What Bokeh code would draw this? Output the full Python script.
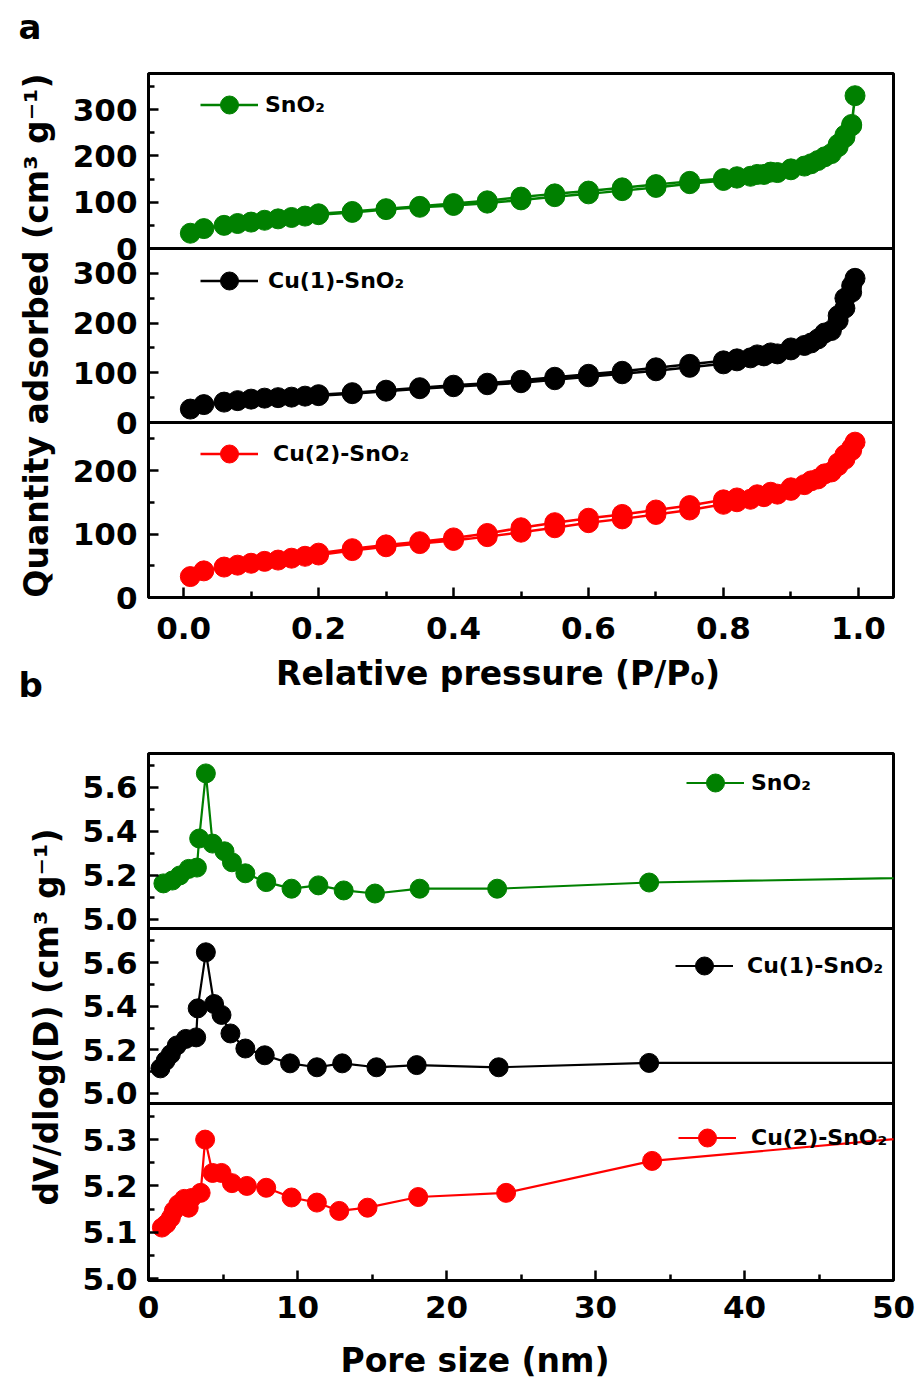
from bokeh.plotting import figure
from bokeh.models import (Range1d, FixedTicker, Legend, LegendItem, Label, Span,
                          NumeralTickFormatter)
from bokeh.layouts import column
from bokeh.embed import file_html
from bokeh.resources import INLINE

# ---------------- data: panel a (N2 isotherms) ----------------
p_ads = [0.01, 0.03, 0.06, 0.08, 0.10, 0.12, 0.14, 0.16, 0.18, 0.20, 0.25, 0.30, 0.35, 0.40,
         0.45, 0.50, 0.55, 0.60, 0.65, 0.70, 0.75, 0.80, 0.82, 0.84, 0.86, 0.88, 0.90, 0.92,
         0.94, 0.96, 0.97, 0.98, 0.99, 0.995]
p_des = [0.99, 0.98, 0.97, 0.95, 0.93, 0.90, 0.87, 0.85, 0.82, 0.80, 0.75, 0.70, 0.65, 0.60,
         0.55, 0.50, 0.45, 0.40, 0.35, 0.30, 0.25, 0.20]

sno2_ads = [33, 43, 50, 54, 57, 61, 64, 67, 70, 73, 78, 84, 89, 93, 98, 105, 112, 118, 125, 132,
            140, 147, 152, 156, 160, 164, 170, 178, 190, 205, 220, 240, 265, 330]
sno2_des = [268, 245, 225, 198, 183, 172, 165, 160, 155, 151, 145, 138, 131, 124, 118, 111, 103,
            97, 91, 86, 80, 75]
cu1_ads = [27, 36, 41, 44, 47, 49, 50, 51, 53, 54, 58, 63, 68, 72, 76, 80, 86, 92, 98, 104, 111,
           118, 124, 130, 134, 138, 146, 155, 168, 185, 205, 230, 262, 290]
cu1_des = [275, 250, 215, 180, 160, 150, 140, 136, 128, 124, 117, 110, 103, 97, 91, 85, 79, 75,
           70, 65, 60, 56]
cu2_ads = [33, 42, 48, 51, 54, 57, 59, 62, 65, 67, 74, 80, 85, 90, 96, 103, 110, 118, 124, 131,
           138, 147, 151, 155, 159, 163, 169, 178, 187, 198, 208, 218, 232, 245]
cu2_des = [236, 225, 212, 195, 184, 173, 166, 162, 157, 154, 145, 138, 131, 125, 118, 110, 101,
           94, 88, 83, 77, 70]

# ---------------- data: panel b (pore size distribution) ----------------
sno2_d = [1.0, 1.6, 2.1, 2.7, 3.25, 3.4, 3.85, 4.3, 5.1, 5.6, 6.5, 7.9, 9.6, 11.4, 13.1, 15.2,
          18.2, 23.4, 33.6, 60]
sno2_v = [5.164, 5.177, 5.20, 5.23, 5.236, 5.368, 5.664, 5.345, 5.31, 5.26, 5.21, 5.17, 5.14,
          5.155, 5.132, 5.118, 5.14, 5.14, 5.168, 5.20]
cu1_d = [0.8, 1.15, 1.5, 1.9, 2.5, 3.2, 3.3, 3.85, 4.4, 4.9, 5.5, 6.5, 7.8, 9.5, 11.3, 13.0,
         15.3, 18.0, 23.5, 33.6, 60]
cu1_v = [5.115, 5.15, 5.18, 5.22, 5.25, 5.257, 5.39, 5.647, 5.41, 5.36, 5.275, 5.206, 5.175,
         5.138, 5.12, 5.138, 5.12, 5.13, 5.12, 5.14, 5.14]
cu2_d = [0.9, 1.2, 1.5, 1.7, 2.0, 2.4, 2.7, 2.9, 3.5, 3.8, 4.3, 4.9, 5.6, 6.6, 7.9, 9.6, 11.3,
         12.8, 14.7, 18.1, 24.0, 33.8, 60]
cu2_v = [5.11, 5.118, 5.131, 5.146, 5.16, 5.172, 5.153, 5.174, 5.185, 5.30, 5.228, 5.228, 5.206,
         5.20, 5.196, 5.175, 5.164, 5.146, 5.153, 5.176, 5.185, 5.254, 5.33]

series_names = ["SnO\u2082", "Cu(1)-SnO\u2082", "Cu(2)-SnO\u2082"]
series_colors = ["#008000", "#000000", "#ff0000"]

# tick values and labels
a_x_ticks = [0.0, 0.2, 0.4, 0.6, 0.8, 1.0]
a_x_minor = [0.1, 0.3, 0.5, 0.7, 0.9]
a_y_ticks = [[0, 100, 200, 300], [0, 100, 200, 300], [0, 100, 200]]
a_y_minor = [[50, 150, 250, 350], [50, 150, 250], [50, 150, 250]]
a_y_lims = [(0, 378), (0, 350), (0, 276)]
b_x_ticks = [0, 10, 20, 30, 40, 50]
b_x_minor = [5, 15, 25, 35, 45]
b_y_ticks = [[5.0, 5.2, 5.4, 5.6], [5.0, 5.2, 5.4, 5.6], [5.0, 5.1, 5.2, 5.3]]
b_y_minor = [[5.1, 5.3, 5.5, 5.7], [5.1, 5.3, 5.5, 5.7], [5.05, 5.15, 5.25, 5.35]]
b_y_lims = [(4.959, 5.7545), (4.954, 5.756), (4.9957, 5.378)]

FONT = "DejaVu Sans"
NB = "\u00a0"
BORDER_W = 3

# ---------------- layout helpers ----------------
def sub_range(lo, hi, p0, p1, H):
    s = (hi - lo) / (p1 - p0)
    start = lo - p0 * s
    return Range1d(start, start + H * s)


def to_px(v, lo, hi, p0, p1):
    return round(p0 + (v - lo) * (p1 - p0) / (hi - lo), 3)


def style_axis(ax, size="31px", lsize="33px"):
    ax.axis_line_width = BORDER_W
    ax.axis_line_color = "black"
    ax.major_tick_in = 10
    ax.major_tick_out = 0
    ax.minor_tick_in = 6
    ax.minor_tick_out = 0
    ax.major_tick_line_width = 2.5
    ax.minor_tick_line_width = 2.5
    ax.major_tick_line_color = "black"
    ax.minor_tick_line_color = "black"
    ax.major_label_text_font = FONT
    ax.major_label_text_font_style = "bold"
    ax.major_label_text_font_size = size
    ax.major_label_text_color = "black"
    ax.axis_label_text_font = FONT
    ax.axis_label_text_font_style = "bold"
    ax.axis_label_text_font_size = lsize
    ax.axis_label_text_color = "black"


def build(fig_h, bands, lims, yt, ym, fmt, x_range, xt, xm, xlabel, ylabel, xs, ys,
          legend_specs, border_top, border_bottom, lw, msize, x_stand, x_lab_stand):
    p = figure(output_backend="svg", toolbar_location=None, frame_width=745,
               frame_height=fig_h, x_range=x_range, y_range=Range1d(0, fig_h),
               min_border_left=148, min_border_right=25, min_border_top=border_top,
               min_border_bottom=border_bottom, background_fill_color="white")
    p.grid.visible = False
    p.outline_line_color = "black"
    p.outline_line_width = BORDER_W
    p.outline_line_alpha = 1.0

    major, minor, overrides = [], [], {}
    for (p0, p1), (lo, hi), t, m in zip(bands, lims, yt, ym):
        for v in t:
            px = to_px(v, lo, hi, p0, p1)
            major.append(px)
            overrides[px] = fmt(v)
        for v in m:
            minor.append(to_px(v, lo, hi, p0, p1))
    yax = p.yaxis[0]
    yax.ticker = FixedTicker(ticks=major, minor_ticks=minor)
    yax.major_label_overrides = overrides
    yax.axis_label = ylabel
    style_axis(yax)
    yax.major_label_standoff = 11
    yax.axis_label_standoff = 14

    xax = p.xaxis[0]
    xax.ticker = FixedTicker(ticks=xt, minor_ticks=xm)
    xax.axis_label = xlabel
    style_axis(xax)
    xax.major_label_standoff = x_stand
    xax.axis_label_standoff = x_lab_stand

    for (p0, p1) in bands[1:]:
        p.add_layout(Span(location=p1, dimension="width", line_color="black",
                          line_width=BORDER_W))

    for i, ((p0, p1), (lo, hi)) in enumerate(zip(bands, lims)):
        name = "s%d" % i
        p.extra_y_ranges[name] = sub_range(lo, hi, p0, p1, fig_h)
        col = series_colors[i]
        ln = p.line(xs[i], ys[i], y_range_name=name, line_color=col, line_width=lw)
        sc = p.scatter(xs[i], ys[i], y_range_name=name, size=msize, fill_color=col,
                       line_color=col)
        lx, ly, stand = legend_specs[i]
        lg = Legend(items=[LegendItem(label=series_names[i], renderers=[ln, sc])],
                    location=(lx, ly), glyph_width=58, glyph_height=45, label_standoff=stand,
                    padding=0, margin=0, spacing=0, border_line_alpha=0,
                    background_fill_alpha=0, label_text_font=FONT,
                    label_text_font_style="bold", label_text_font_size="22px",
                    label_text_color="black")
        p.add_layout(lg)
    return p


# panel a: frame 524 px tall, bands listed top -> bottom (offsets from frame bottom)
bands_a = [(349, 524), (175, 349), (0, 175)]
xs_a = [p_ads + p_des] * 3
ys_a = [sno2_ads + sno2_des, cu1_ads + cu1_des, cu2_ads + cu2_des]
pa = build(524, bands_a, a_y_lims, a_y_ticks, a_y_minor, lambda v: "%d" % v,
           Range1d(-0.052, 1.052), a_x_ticks, a_x_minor,
           "Relative pressure (P/P\u2080)" + NB * 4,
           "Quantity adsorbed (cm\u00b3 g\u207b\u00b9)",
           xs_a, ys_a, [(52, 470.5, 7), (52, 294.5, 10), (52, 121.5, 15)],
           73, 110, 2.5, 20, 19, 12)
pa.xaxis[0].formatter = NumeralTickFormatter(format="0.0")

bands_b = [(352, 527), (177, 352), (0, 177)]
pb = build(527, bands_b, b_y_lims, b_y_ticks, b_y_minor, lambda v: "%.1f" % v,
           Range1d(0, 50), b_x_ticks, b_x_minor,
           "Pore size (nm)" + NB * 8, "dV/dlog(D) (cm\u00b3 g\u207b\u00b9)",
           [sno2_d, cu1_d, cu2_d], [sno2_v, cu1_v, cu2_v],
           [(538, 475.5, 7), (527, 292.5, 14), (530, 120.5, 15)],
           46, 100, 2.2, 19, 15, 20)

# panel letters (placed in side panels so that they are not clipped to the frame)
pa.add_layout(Label(x=-130, y=47, x_units="screen", y_units="screen", text="a",
                    text_font=FONT, text_font_style="bold", text_font_size="34px",
                    text_color="black", text_baseline="alphabetic"), "above")
pa.add_layout(Label(x=-875, y=-87, x_units="screen", y_units="screen", text="b",
                    text_font=FONT, text_font_style="bold", text_font_size="34px",
                    text_color="black", text_baseline="alphabetic"), "right")

layout = column(pa, pb, spacing=0)
open("out.html", "w").write(file_html(layout, INLINE))
